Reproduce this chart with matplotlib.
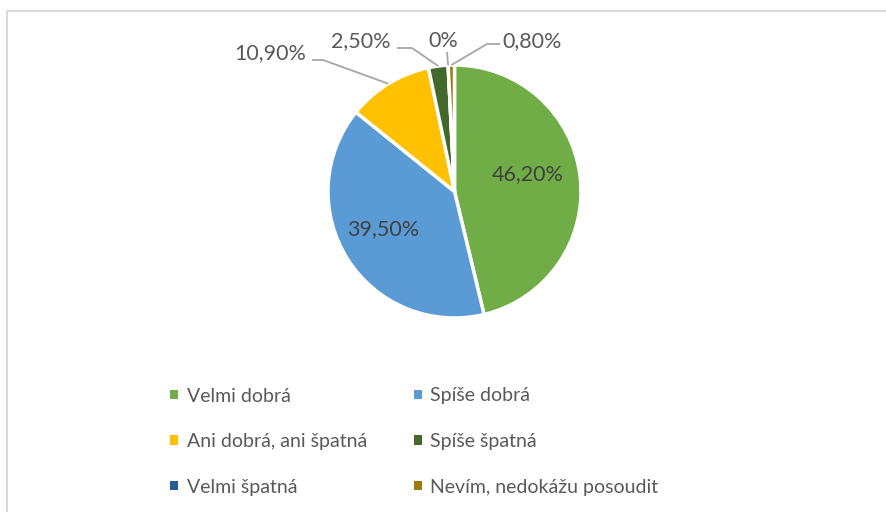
import matplotlib.pyplot as plt
from matplotlib.patches import Rectangle
import numpy as np

plt.rcParams['font.family'] = ['Lato', 'DejaVu Sans']

categories = ['Velmi dobrá', 'Spíše dobrá', 'Ani dobrá, ani špatná',
              'Spíše špatná', 'Velmi špatná', 'Nevím, nedokážu posoudit']
values = [46.2, 39.5, 10.9, 2.5, 0.0, 0.8]
value_labels = ['46,20%', '39,50%', '10,90%', '2,50%', '0%', '0,80%']
colors = ['#70AD47', '#5B9BD5', '#FFC000', '#43682B', '#255E91', '#9E7A0A']

W, H = 887, 512
text_color = '#595959'

fig = plt.figure(figsize=(W / 100, H / 100), dpi=100)
ax = fig.add_axes([0, 0, 1, 1])

# pie in pixel-like coordinates (y measured from bottom)
cx, cy, r = 454.5, H - 191.5, 126.5
wedges, _ = ax.pie(values, colors=colors, startangle=90, counterclock=False,
                   center=(cx, cy), radius=r,
                   wedgeprops=dict(edgecolor='white', linewidth=2.5))
ax.set_xlim(0, W)
ax.set_ylim(0, H)
ax.set_aspect('equal')
ax.axis('off')

# mid angles of each slice
frac = np.array(values) / sum(values)
ends = 90 - 360 * np.cumsum(frac)
starts = ends + 360 * frac
mids = np.radians((starts + ends) / 2)

def rim(i):
    return cx + r * np.cos(mids[i]), cy + r * np.sin(mids[i])

fs = 15.5
# inside labels
ax.text(528, H - 174, value_labels[0], ha='center', va='center', fontsize=fs, color='#404040')
ax.text(383, H - 229, value_labels[1], ha='center', va='center', fontsize=fs, color='#404040')

# outside labels with leader lines: (label x, label y, elbow points)
outside = {
    2: (270.5, 53, [(312, 60), (323, 60)]),
    3: (361, 41, [(397, 48), (412, 48)]),
    4: (443, 41, [(447, 52)]),
    5: (532, 41, [(500, 44), (487, 44)]),
}
for i, (tx, ty, pts) in outside.items():
    ax.text(tx, H - ty, value_labels[i], ha='center', va='center', fontsize=fs, color=text_color)
    px, py = rim(i)
    xs = [p[0] for p in pts] + [px]
    ys = [H - p[1] for p in pts] + [py]
    ax.plot(xs, ys, color='#A6A6A6', lw=1.3, solid_capstyle='butt')

# legend, filled row by row
order = [0, 2, 4, 1, 3, 5]
leg = ax.legend([wedges[i] for i in order], [categories[i] for i in order],
                ncol=2, loc='upper left',
                bbox_to_anchor=(153 / W, 1 - 370 / H), frameon=False,
                fontsize=14, labelcolor=text_color,
                handlelength=0.38, handleheight=0.38, handletextpad=0.45,
                labelspacing=1.47, columnspacing=2.44)
for h in leg.legend_handles:
    h.set_edgecolor('none')

# chart border
fig.patches.append(Rectangle((7 / W, -0.1), 1.2, 1 - 11 / H + 0.1,
                             transform=fig.transFigure, fill=False,
                             edgecolor='#D9D9D9', lw=1.5))

fig.savefig('out.png', dpi=100)
